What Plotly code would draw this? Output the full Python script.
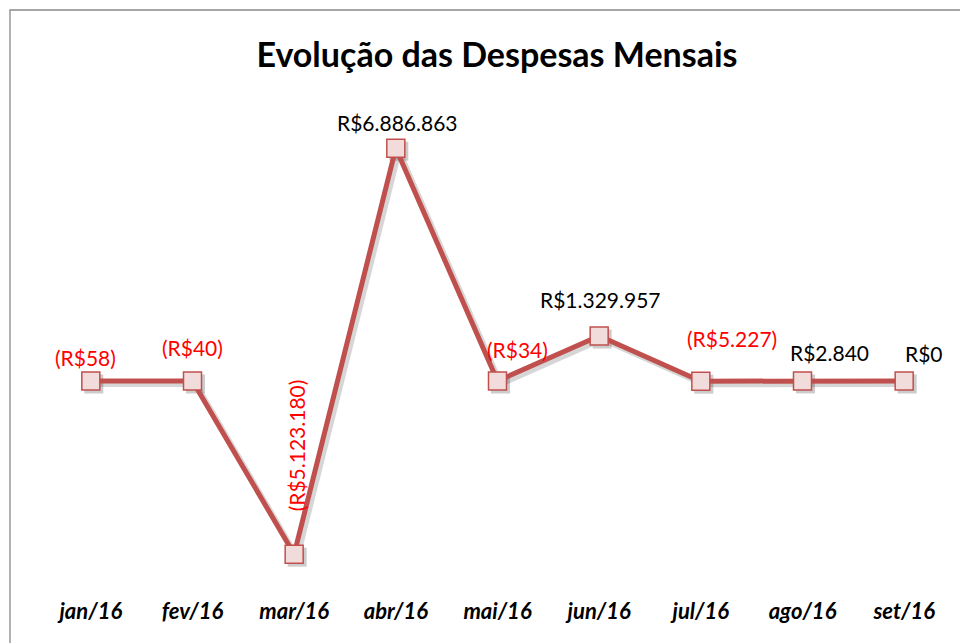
import plotly.graph_objects as go

# ---- data ----
months = ["jan/16", "fev/16", "mar/16", "abr/16", "mai/16", "jun/16", "jul/16", "ago/16", "set/16"]
despesas = [-58, -40, -5123180, 6886863, -34, 1329957, -5227, 2840, 0]
title_text = "Evolução das Despesas Mensais"

# ---- styling ----
LINE = "#C0504D"
FILL = "#F2DCDB"
FONT = "Lato"

def fmt(v):
    s = "{:,}".format(abs(int(v))).replace(",", ".")
    return "(R$" + s + ")" if v < 0 else "R$" + s

# per-label pixel offsets (style, not data)
label_dx = [-5, 0, 2, 2, 20, 1, 31, 27, 20]
label_dy = [24, 34, 109, 26, 32, 37, 43, 28, 28]
label_rot = [0, 0, -90, 0, 0, 0, 0, 0, 0]

PAGE = 8  # default body margin of the html page
W, H = 968 - PAGE, 643 - PAGE
ml, mt = 40 - PAGE, 100 - PAGE
plot_w, plot_h = 915, 490
off = 3
dx = off / (plot_w + off)
dy = off / (plot_h + off)
mr = W - ml - plot_w - off
mb = H - mt - plot_h - off

px_per_unit = 33.8e-6
zero_px = 381 - 100
yr = [-(plot_h - zero_px) / px_per_unit, zero_px / px_per_unit]

fig = go.Figure()

# soft shadow (drawn on lower subplot layer, offset a few px)
fig.add_trace(go.Scatter(
    x=months, y=despesas, xaxis="x", yaxis="y", mode="lines+markers",
    line=dict(color="rgba(0,0,0,0.16)", width=6),
    marker=dict(symbol="square", size=19, color="rgba(0,0,0,0.2)",
                line=dict(width=0)),
    hoverinfo="skip", showlegend=False,
))

fig.add_trace(go.Scatter(
    x=months, y=despesas, xaxis="x2", yaxis="y2", mode="lines+markers",
    line=dict(color=LINE, width=5),
    marker=dict(symbol="square", size=18, color=FILL,
                line=dict(color=LINE, width=1.5)),
    showlegend=False,
))

for i, (m, v) in enumerate(zip(months, despesas)):
    fig.add_annotation(
        x=m, y=v, xref="x2", yref="y2", text=fmt(v), showarrow=False,
        xshift=label_dx[i], yshift=label_dy[i], textangle=label_rot[i],
        font=dict(family=FONT, size=21, color="#FF0000" if v < 0 else "#000000"),
    )

# chart border (cropped on right/bottom as in reference)
fig.add_shape(type="rect", xref="paper", yref="paper",
              x0=(10 - 40) / (plot_w + off), x1=1.2,
              y0=-0.3, y1=1 + (100 - 10) / (plot_h + off),
              line=dict(color="#898989", width=1.3), fillcolor="rgba(0,0,0,0)", layer="below")

fig.update_layout(
    width=W, height=H,
    margin=dict(l=ml, r=mr, t=mt, b=mb),
    paper_bgcolor="white", plot_bgcolor="rgba(0,0,0,0)",
    title=dict(text="<b>" + title_text + "</b>", x=(497 - PAGE) / W, xanchor="center",
               y=1 - (55 - PAGE) / H, yanchor="middle",
               font=dict(family=FONT, size=34, color="#000000")),
    xaxis=dict(domain=[dx, 1], type="category", range=[-0.5, 8.5], visible=False,
               anchor="y"),
    yaxis=dict(domain=[0, 1 - dy], range=yr, visible=False, anchor="x"),
    xaxis2=dict(domain=[0, 1 - dx], type="category", range=[-0.5, 8.5], anchor="y2",
                showgrid=False, zeroline=False, showline=False, ticks="",
                tickfont=dict(family=FONT, size=22, color="#000000", weight="bold", style="italic"),
                ticklabelstandoff=6),
    yaxis2=dict(domain=[dy, 1], range=yr, visible=False, anchor="x2",
                showgrid=False, zeroline=False),
)

fig.write_html("out.html")
